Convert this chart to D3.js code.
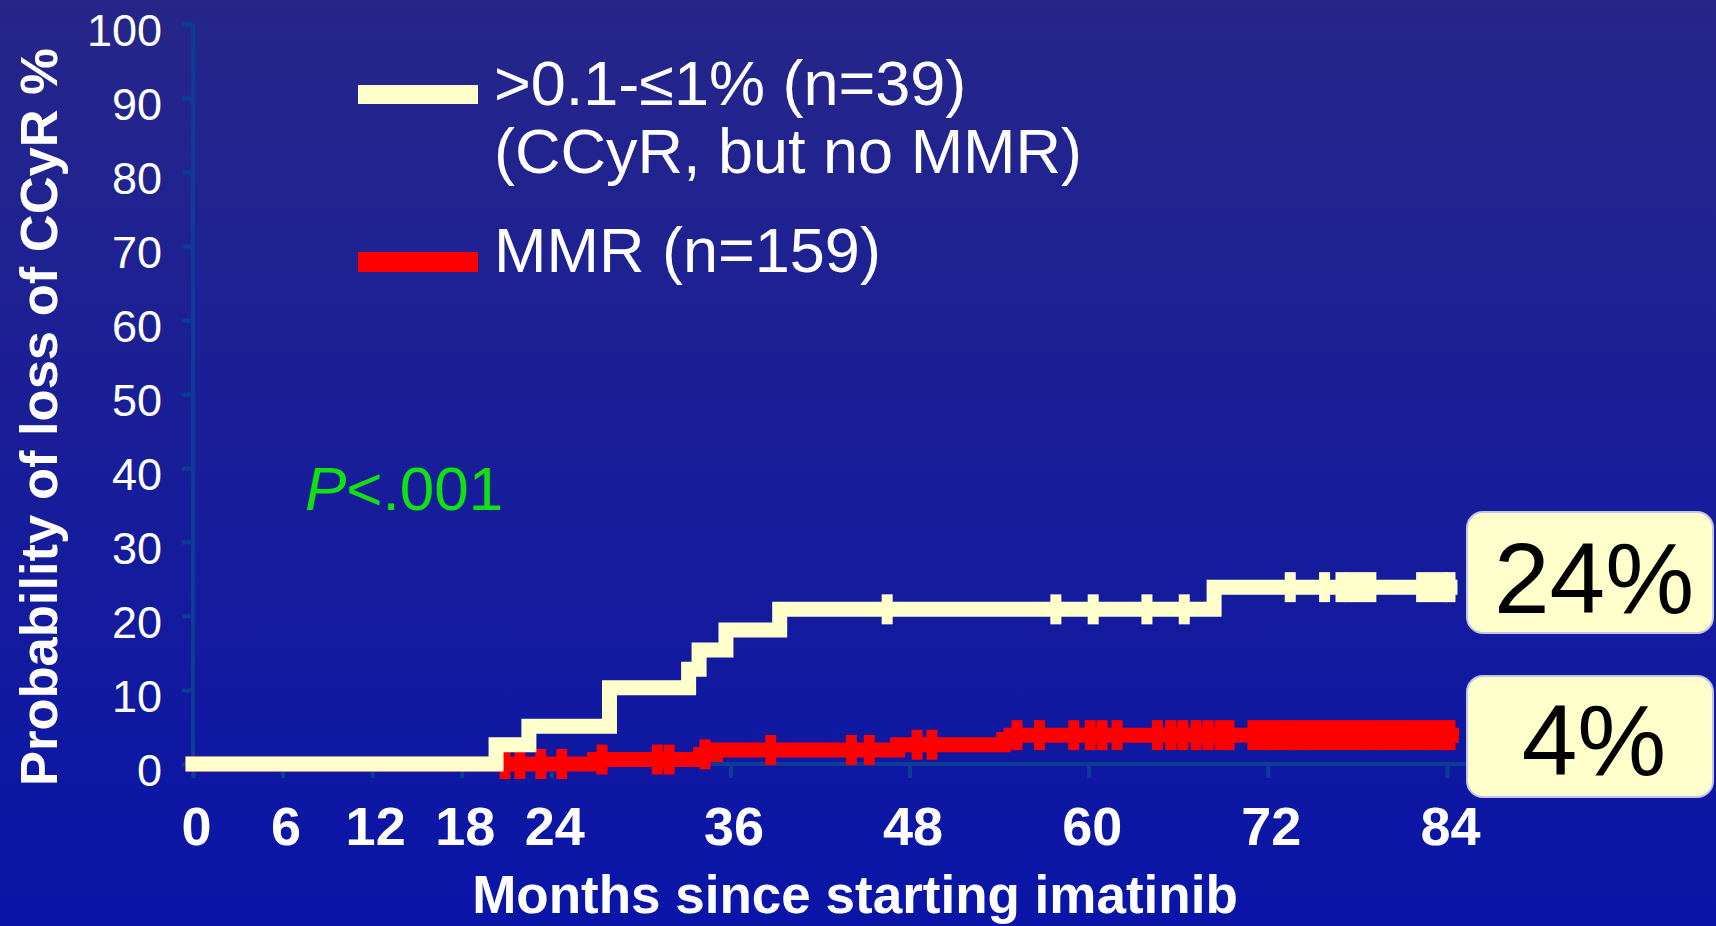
<!DOCTYPE html>
<html>
<head>
<meta charset="utf-8">
<script src="https://cdn.jsdelivr.net/npm/d3@7"></script>
<style>
  html, body { margin: 0; padding: 0; overflow: hidden; background: #1a1a96; }
  svg { display: block; font-family: "Liberation Sans", Arial, sans-serif; }
</style>
</head>
<body>
<div id="chart"></div>
<script>
// axis ticks
const xTicks = [0, 6, 12, 18, 24, 36, 48, 60, 72, 84];
const yTicks = [0, 10, 20, 30, 40, 50, 60, 70, 80, 90, 100];

// >0.1-<=1% group (CCyR, no MMR): step times in months, cumulative loss %
const creamMonths = [0, 20.3, 22.5, 27.9, 33.2, 33.9, 35.7, 39.3, 68.4, 84.2];
const creamValues = [0, 2.6, 5.1, 10.3, 12.8, 15.4, 18.1, 20.9, 23.9, 23.9];
const creamCensored = [46.5, 57.8, 60.3, 63.9, 66.4, 73.5, 75.8, 76.9, 77.5, 78.2, 78.9, 82.3, 83.0, 83.7, 84.2];

// MMR group
const redMonths = [0, 26.9, 34.0, 35.0, 47.2, 54.3, 54.8, 84.3];
const redValues = [0, 0.6, 1.3, 1.9, 2.6, 3.3, 3.9, 3.9];
const redCensored = [20.9, 21.9, 23.3, 24.7, 27.4, 31.1, 31.9, 34.3, 38.7, 44.1, 45.3, 48.5, 49.5,
  55.2, 56.7, 59.0, 60.1, 60.9, 61.9, 64.6, 65.5, 66.3, 67.2, 68.0, 68.8, 69.4,
  71.0, 71.7, 72.4, 73.1, 73.8, 74.5, 75.2, 75.9, 76.6, 77.3, 78.0, 78.7, 79.4,
  80.1, 80.8, 81.5, 82.2, 82.9, 83.6, 84.2];

const legendLines = [[">0.1-\u22641% (n=39)", "(CCyR, but no MMR)"], ["MMR (n=159)"]];
const finalLabels = ["24%", "4%"];
const pLabel = "<.001";

const W = 1716, H = 926;
const cream = "#ffffcc", red = "#ff0000", axisColor = "#0d3c96";

const svg = d3.select("#chart").append("svg")
  .attr("width", W)
  .attr("height", H)
  .attr("viewBox", `0 0 ${W} ${H}`);

// background gradient
const grad = svg.append("defs").append("linearGradient")
  .attr("id", "bg").attr("x1", 0).attr("y1", 0).attr("x2", 0).attr("y2", 1);
grad.append("stop").attr("offset", "0%").attr("stop-color", "#262689");
grad.append("stop").attr("offset", "100%").attr("stop-color", "#0a15a8");
svg.append("rect").attr("width", W).attr("height", H).attr("fill", "url(#bg)");

const x = d3.scaleLinear().domain([0, 84]).range([193, 1447]);
const y = d3.scaleLinear().domain([0, 100]).range([764, 24]);

// y axis
const yAxis = svg.append("g")
  .attr("transform", `translate(${x(0)},0)`)
  .call(d3.axisLeft(y).tickValues(yTicks).tickSize(11).tickSizeOuter(0).tickPadding(20));
yAxis.select(".domain").remove();
yAxis.selectAll(".tick line").attr("stroke", axisColor).attr("stroke-width", 4);
yAxis.selectAll(".tick text")
  .attr("fill", "#ffffff")
  .attr("font-size", 45)
  .attr("font-family", "Liberation Sans, Arial, sans-serif")
  .attr("dy", "0.47em");

// x axis
const xAxis = svg.append("g")
  .attr("transform", `translate(0,${y(0)})`)
  .call(d3.axisBottom(x).tickValues(xTicks).tickSize(14).tickSizeOuter(0));
xAxis.select(".domain").remove();
xAxis.selectAll(".tick line").attr("stroke", axisColor).attr("stroke-width", 4);
xAxis.selectAll(".tick text")
  .attr("fill", "#ffffff")
  .attr("font-size", 54)
  .attr("font-weight", "bold")
  .attr("font-family", "Liberation Sans, Arial, sans-serif")
  .attr("x", 3)
  .attr("y", 81)
  .attr("dy", 0);

// axis lines
svg.append("line")
  .attr("x1", x(0)).attr("x2", x(0)).attr("y1", y(100)).attr("y2", y(0))
  .attr("stroke", axisColor).attr("stroke-width", 4);
svg.append("line")
  .attr("x1", x(0)).attr("x2", 1466).attr("y1", y(0)).attr("y2", y(0))
  .attr("stroke", axisColor).attr("stroke-width", 4);

// axis titles
svg.append("text")
  .attr("transform", "translate(57,417) rotate(-90)")
  .attr("text-anchor", "middle")
  .attr("fill", "#ffffff")
  .attr("font-size", 52.5)
  .attr("font-weight", "bold")
  .text("Probability of loss of CCyR %");

svg.append("text")
  .attr("x", 855).attr("y", 913)
  .attr("text-anchor", "middle")
  .attr("fill", "#ffffff")
  .attr("font-size", 53)
  .attr("font-weight", "bold")
  .text("Months since starting imatinib");

// step curves
const stepLine = d3.line()
  .x(d => x(d[0]))
  .y(d => y(d[1]))
  .curve(d3.curveStepAfter);

const valueAt = (months, values, t) => values[Math.max(0, d3.bisectRight(months, t) - 1)];

function drawCurve(months, values, censored, color) {
  const g = svg.append("g");
  g.append("path")
    .datum(months.map((m, i) => [m, values[i]]))
    .attr("d", stepLine)
    .attr("fill", "none")
    .attr("stroke", color)
    .attr("stroke-width", 15)
    .attr("stroke-linecap", "square")
    .attr("stroke-linejoin", "miter");
  g.selectAll("rect.censor")
    .data(censored)
    .join("rect")
    .attr("class", "censor")
    .attr("x", d => x(d) - 5.5)
    .attr("y", d => y(valueAt(months, values, d)) - 15)
    .attr("width", 11)
    .attr("height", 30)
    .attr("fill", color);
}

drawCurve(redMonths, redValues, redCensored, red);
drawCurve(creamMonths, creamValues, creamCensored, cream);

// legend
const legendSwatch = [{ y: 85, h: 19, color: cream }, { y: 252, h: 20, color: red }];
legendSwatch.forEach(s => {
  svg.append("rect")
    .attr("x", 358).attr("y", s.y).attr("width", 120).attr("height", s.h)
    .attr("fill", s.color);
});
const legendBaselines = [[105, 173], [272]];
legendLines.forEach((lines, i) => {
  lines.forEach((line, j) => {
    svg.append("text")
      .attr("x", 494).attr("y", legendBaselines[i][j])
      .attr("fill", "#ffffff")
      .attr("font-size", 63)
      .text(line);
  });
});

// p value
const pText = svg.append("text")
  .attr("x", 305).attr("y", 510)
  .attr("fill", "#11e011")
  .attr("font-size", 62);
pText.append("tspan").attr("font-style", "italic").text("P");
pText.append("tspan").text(pLabel);

// final value boxes
const boxTops = [512, 676];
const boxBaselines = [613, 775];
finalLabels.forEach((label, i) => {
  svg.append("rect")
    .attr("x", 1467).attr("y", boxTops[i])
    .attr("width", 246).attr("height", 121)
    .attr("rx", 16).attr("ry", 16)
    .attr("fill", cream)
    .attr("stroke", "#c4c4e4")
    .attr("stroke-width", 2);
  svg.append("text")
    .attr("x", 1594).attr("y", boxBaselines[i])
    .attr("text-anchor", "middle")
    .attr("fill", "#000000")
    .attr("font-size", 100)
    .text(label);
});
</script>
</body>
</html>
